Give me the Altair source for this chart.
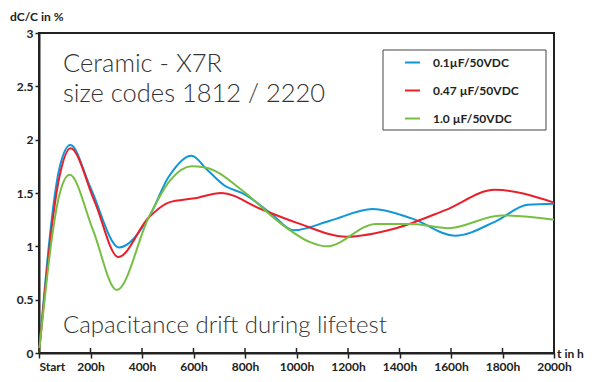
import altair as alt
import pandas as pd

# ---- data ----
series_names = ["0.1\u00b5F/50VDC", "0.47 \u00b5F/50VDC", "1.0 \u00b5F/50VDC"]
series_colors = ["#0f97d8", "#e8202b", "#76bf43"]

t_blue = [0, 80, 122, 200, 311, 426, 503, 592, 656, 720, 797, 900, 989, 1130, 1296, 1450, 1616, 1770, 1898, 2000]
v_blue = [0, 1.74, 1.95, 1.55, 0.99, 1.27, 1.65, 1.85, 1.71, 1.57, 1.49, 1.31, 1.15, 1.24, 1.35, 1.26, 1.10, 1.23, 1.39, 1.40]

t_red = [0, 80, 122, 216, 308, 426, 503, 605, 708, 861, 1002, 1194, 1386, 1578, 1770, 2000]
v_red = [0, 1.66, 1.92, 1.42, 0.90, 1.27, 1.41, 1.45, 1.50, 1.35, 1.22, 1.09, 1.17, 1.34, 1.53, 1.41]

t_green = [0, 80, 119, 210, 302, 426, 510, 592, 644, 797, 925, 1053, 1117, 1309, 1450, 1590, 1795, 2000]
v_green = [0, 1.49, 1.67, 1.15, 0.59, 1.27, 1.62, 1.75, 1.74, 1.51, 1.24, 1.04, 1.00, 1.21, 1.21, 1.17, 1.29, 1.25]

x_ticks = [0, 200, 400, 600, 800, 1000, 1200, 1400, 1600, 1800, 2000]
y_ticks = [0, 0.5, 1, 1.5, 2, 2.5, 3]

title_line1 = "Ceramic - X7R"
title_line2 = "size codes 1812 / 2220"
caption = "Capacitance drift during lifetest"
y_title = "dC/C in %"
x_title = "t in h"

W, H = 515, 320
FONT = "Lato"

rows = []
for name, ts, vs in zip(series_names, [t_blue, t_red, t_green], [v_blue, v_red, v_green]):
    for t, v in zip(ts, vs):
        rows.append({"series": name, "t": t, "v": v})
df = pd.DataFrame(rows)

xscale = alt.Scale(domain=[0, 2000], nice=False, zero=False)
yscale = alt.Scale(domain=[0, 3], nice=False)

lines = alt.Chart(df).mark_line(interpolate="monotone", strokeWidth=2).encode(
    x=alt.X("t:Q", scale=xscale,
            axis=alt.Axis(values=x_ticks, title=None, grid=False,
                          labelExpr="datum.value == 0 ? 'Start' : datum.value + 'h'",
                          labelAlign={"condition": {"test": "datum.value == 0", "value": "left"},
                                      "value": "center"},
                          tickSize=5, tickWidth=1.5, tickColor="#222",
                          domainColor="#222", domainWidth=2,
                          labelFont=FONT, labelFontWeight="bold", labelFontSize=12,
                          labelColor="#222", labelPadding=3, labelFlush=False)),
    y=alt.Y("v:Q", scale=yscale,
            axis=alt.Axis(values=y_ticks, title=None, grid=False,
                          labelExpr="'' + datum.value",
                          tickSize=4, tickWidth=1.5, tickColor="#222",
                          domainColor="#222", domainWidth=2,
                          labelFont=FONT, labelFontWeight="bold", labelFontSize=12,
                          labelColor="#222", labelPadding=2)),
    color=alt.Color("series:N",
                    scale=alt.Scale(domain=series_names, range=series_colors),
                    legend=alt.Legend(title=None, orient="none", legendX=365, legendY=21,
                                      padding=0, symbolType="stroke", symbolSize=225,
                                      symbolStrokeWidth=2, rowPadding=13, labelOffset=12,
                                      labelFont=FONT, labelFontWeight="bold",
                                      labelFontSize=12, labelColor="#222")),
)

# small tick parts above the x axis
tick_df = pd.DataFrame({"t": x_ticks})
upticks = alt.Chart(tick_df).mark_rule(color="#222", strokeWidth=1.5).encode(
    x=alt.X("t:Q", scale=xscale),
    y=alt.value(H),
    y2=alt.value(H - 5),
)

box_df = pd.DataFrame({"k": [0]})
legend_box = alt.Chart(box_df).mark_rect(fill="white", stroke="#444", strokeWidth=1).encode(
    x=alt.value(344), x2=alt.value(507), y=alt.value(17), y2=alt.value(97)
)

def text_layer(txt, x, y, size, weight, align="left", baseline="alphabetic", color="#333"):
    d = pd.DataFrame({"txt": [txt]})
    return alt.Chart(d).mark_text(
        align=align, baseline=baseline, font=FONT, fontWeight=weight, fontSize=size, color=color
    ).encode(text="txt:N", x=alt.value(x), y=alt.value(y))

t1 = text_layer(title_line1, 24, 39, 25.5, 300)
t2 = text_layer(title_line2, 24, 69, 25.5, 300)
cap = text_layer(caption, 24, 300, 24, 300)
yt = text_layer(y_title, -29, -12, 12, "bold", color="#222")
xt = text_layer(x_title, W + 3, H + 1, 12, "bold", baseline="middle", color="#222")

chart = alt.layer(legend_box, lines, upticks, t1, t2, cap, yt, xt).properties(
    width=W, height=H,
    autosize=alt.AutoSizeParams(type="none"),
    padding={"left": 31, "top": 25, "right": 34, "bottom": 21},
).configure_view(stroke="#222", strokeWidth=2)

chart.save("out.html", embed_options={"renderer": "svg", "actions": False})
